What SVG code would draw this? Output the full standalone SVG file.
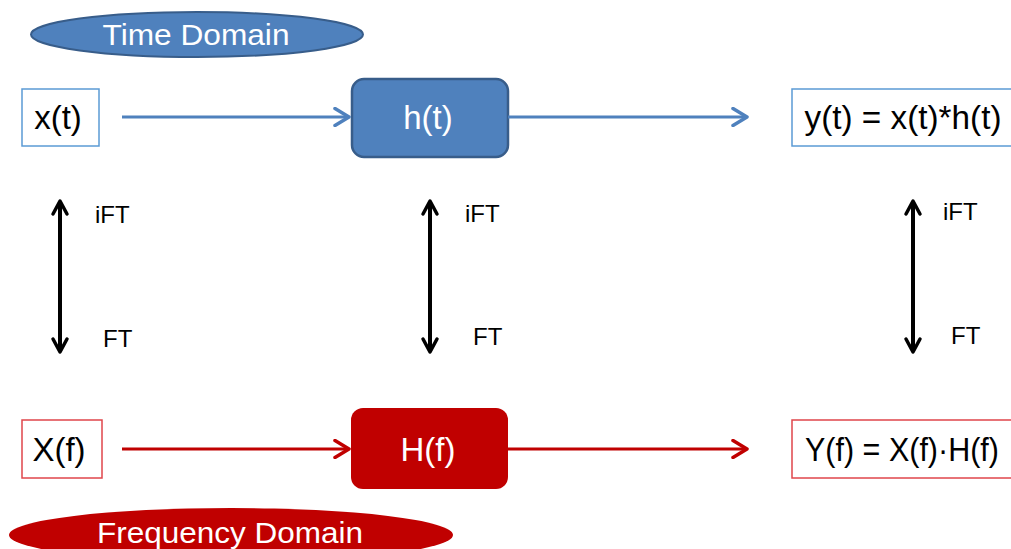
<svg xmlns="http://www.w3.org/2000/svg" width="1011" height="549" viewBox="0 0 1011 549">
<defs>
<style>
.lbl{font-family:"Liberation Sans",Arial,sans-serif;font-size:33px;fill:#000;text-anchor:middle}
.wl{font-family:"Liberation Sans",Arial,sans-serif;font-size:33px;fill:#fff;text-anchor:middle}
.dl{font-family:"Liberation Sans",Arial,sans-serif;font-size:30px;fill:#fff;text-anchor:middle}
.ft{font-family:"Liberation Sans",Arial,sans-serif;font-size:24px;fill:#000}
.blue{stroke:#4F81BD;stroke-width:3;fill:none}
.red{stroke:#C00000;stroke-width:3;fill:none}
.blk{stroke:#000;stroke-width:4;fill:none}
</style>
<marker id="ab" viewBox="0 0 20 20" refX="17" refY="10" markerWidth="20" markerHeight="20" markerUnits="userSpaceOnUse" orient="auto-start-reverse"><path d="M3,1.5 L17,10 L3,18.5" fill="none" stroke="#4F81BD" stroke-width="3.5" stroke-linecap="round" stroke-linejoin="round"/></marker>
<marker id="ar" viewBox="0 0 20 20" refX="17" refY="10" markerWidth="20" markerHeight="20" markerUnits="userSpaceOnUse" orient="auto-start-reverse"><path d="M3,1.5 L17,10 L3,18.5" fill="none" stroke="#C00000" stroke-width="3.5" stroke-linecap="round" stroke-linejoin="round"/></marker>
<marker id="ak" viewBox="0 0 20 20" refX="17" refY="10" markerWidth="20" markerHeight="20" markerUnits="userSpaceOnUse" orient="auto-start-reverse"><path d="M4,3 L17,10 L4,17" fill="none" stroke="#000" stroke-width="3.5" stroke-linecap="round" stroke-linejoin="round"/></marker>
</defs>
<rect width="1011" height="549" fill="#fff"/>
<g id="time-domain">
<ellipse cx="197" cy="34.5" rx="166" ry="22.5" fill="#4F81BD" stroke="#385D8A" stroke-width="2"/>
<text class="dl" x="196" y="45" textLength="187" lengthAdjust="spacingAndGlyphs">Time Domain</text>
</g>
<g id="freq-domain">
<ellipse cx="231" cy="535" rx="222" ry="27" fill="#C00000"/>
<text class="dl" x="230" y="543" textLength="266" lengthAdjust="spacingAndGlyphs">Frequency Domain</text>
</g>
<g id="xt">
<rect x="22" y="89" width="77" height="57" fill="#fff" stroke="#5B9BD5" stroke-width="1.5"/>
<text class="lbl" x="58" y="129">x(t)</text>
</g>
<g id="ht">
<rect x="352" y="79" width="156" height="78" rx="12" fill="#4F81BD" stroke="#385D8A" stroke-width="2.5"/>
<text class="wl" x="428" y="129">h(t)</text>
</g>
<g id="yt">
<rect x="792" y="89" width="230" height="57" fill="#fff" stroke="#5B9BD5" stroke-width="1.5"/>
<text class="lbl" x="903" y="129" textLength="197" lengthAdjust="spacingAndGlyphs">y(t) = x(t)*h(t)</text>
</g>
<g id="Xf">
<rect x="22" y="420" width="80" height="58" fill="#fff" stroke="#E0464B" stroke-width="1.5"/>
<text class="lbl" x="59" y="461">X(f)</text>
</g>
<g id="Hf">
<rect x="351" y="408" width="157" height="81" rx="12" fill="#C00000"/>
<text class="wl" x="428" y="461">H(f)</text>
</g>
<g id="Yf">
<rect x="792" y="420" width="230" height="58" fill="#fff" stroke="#E0464B" stroke-width="1.5"/>
<text class="lbl" x="902" y="461" textLength="194" lengthAdjust="spacingAndGlyphs">Y(f) = X(f)·H(f)</text>
</g>
<g id="connectors">
<line class="blue" x1="122" y1="117" x2="349" y2="117" marker-end="url(#ab)"/>
<line class="blue" x1="508" y1="117" x2="747" y2="117" marker-end="url(#ab)"/>
<line class="red" x1="122" y1="449" x2="349" y2="449" marker-end="url(#ar)"/>
<line class="red" x1="508" y1="449" x2="747" y2="449" marker-end="url(#ar)"/>
<line class="blk" x1="60" y1="201" x2="60" y2="352" marker-start="url(#ak)" marker-end="url(#ak)"/>
<line class="blk" x1="430" y1="201" x2="430" y2="352" marker-start="url(#ak)" marker-end="url(#ak)"/>
<line class="blk" x1="913" y1="201" x2="913" y2="352" marker-start="url(#ak)" marker-end="url(#ak)"/>
<text class="ft" x="95" y="223">iFT</text>
<text class="ft" x="103" y="347">FT</text>
<text class="ft" x="465" y="222">iFT</text>
<text class="ft" x="473" y="345">FT</text>
<text class="ft" x="943" y="220">iFT</text>
<text class="ft" x="951" y="344">FT</text>
</g>
</svg>
